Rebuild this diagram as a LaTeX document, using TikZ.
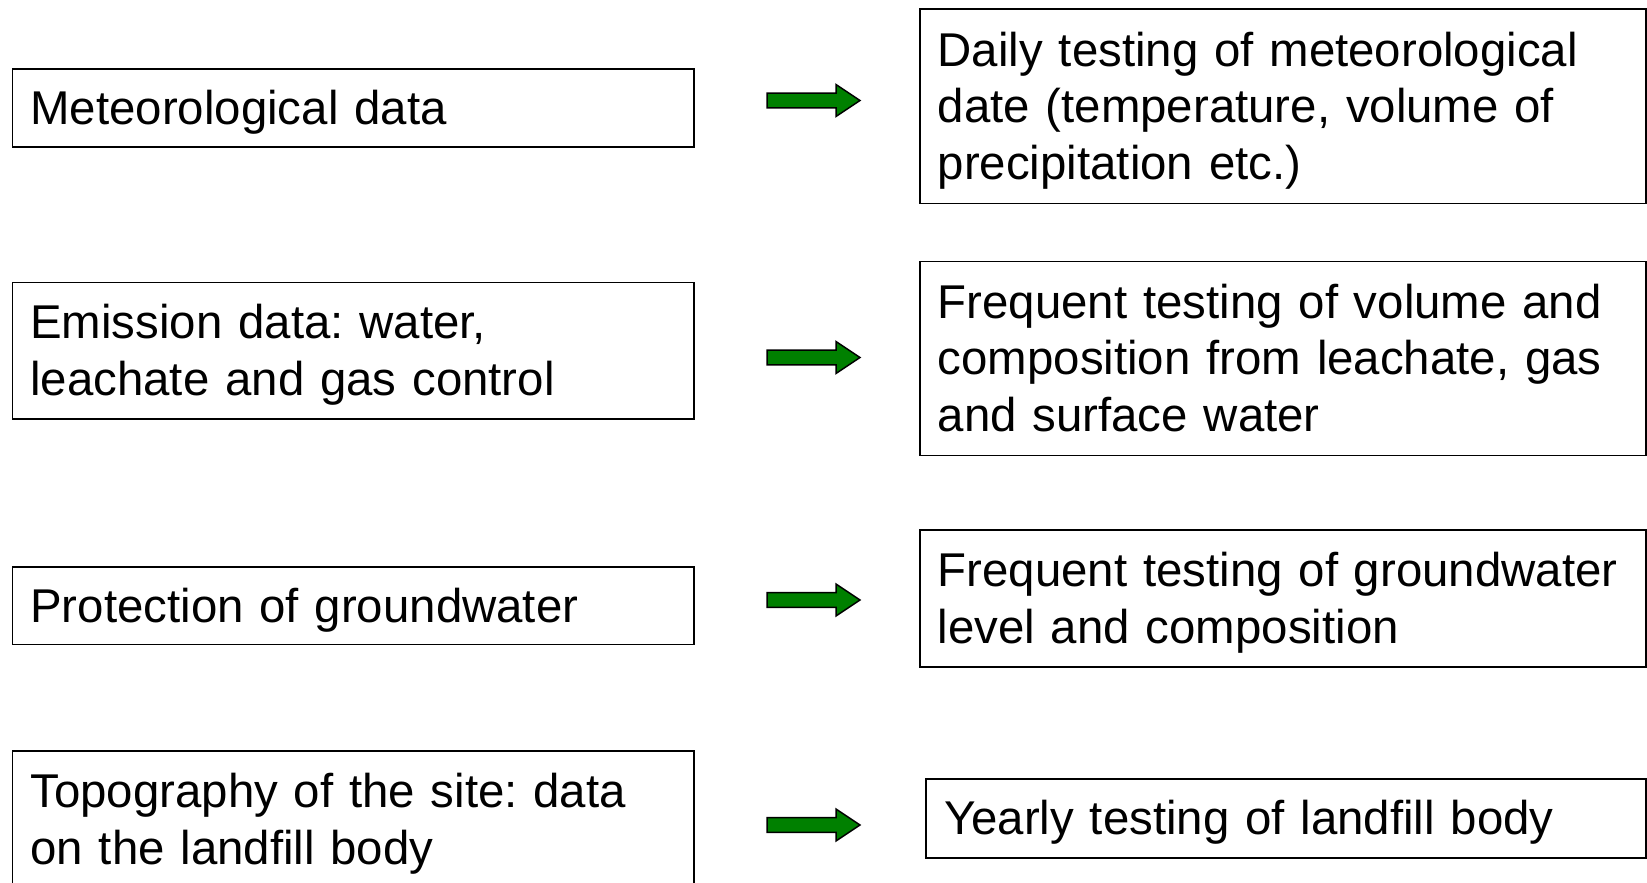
\documentclass[tikz,border=0pt]{standalone}
\usepackage{fontspec}
\setmainfont{Liberation Sans}
\frenchspacing
\definecolor{arrowgreen}{RGB}{0,128,0}
\newcommand{\boxtext}[1]{\raisebox{-4.2pt}[\height][\depth]{\parbox[c]{\hsize}{\raggedright\vphantom{Mlg}#1\vphantom{Mlg}}}}
\begin{document}
\begin{tikzpicture}[x=1pt,y=-1pt,
  box/.style={draw, line width=1.5pt, rectangle, anchor=north west, align=left,
    inner xsep=18pt, inner ysep=0pt, font=\fontsize{47.4}{56.7}\selectfont},
  lbox/.style={box, minimum width=681.7pt, text width=645.7pt},
  rbox/.style={box, minimum width=726pt, text width=690pt},
  blockarr/.style={draw=black, fill=arrowgreen, line width=1.5pt, line join=miter},
  pics/barrow/.style={code={
    \draw[blockarr] (0,-7.3) -- (69,-7.3) -- (69,-16) -- (93,0) -- (69,16) -- (69,7.3) -- (0,7.3) -- cycle;}}
]
\useasboundingbox (0,0) rectangle (1647,883);
\clip (0,0) rectangle (1647,883);
% left column
\node[lbox, minimum height=77.7pt] (l1) at (11.6,68.3) {\boxtext{Meteorological data}};
\node[lbox, minimum height=136.6pt] (l2) at (11.6,281.5) {\boxtext{Emission data: water,\\leachate and gas control}};
\node[lbox, minimum height=77.7pt] (l3) at (11.6,566.2) {\boxtext{Protection of groundwater}};
\node[lbox, minimum height=138pt] (l4) at (11.6,750) {\boxtext{Topography of the site: data\\on the landfill body}};
% right column
\node[rbox, minimum height=194.3pt] (r1) at (919,8.4) {\boxtext{Daily testing of meteorological\\date (temperature, volume of\\precipitation etc.)}};
\node[rbox, minimum height=194.3pt] (r2) at (919,260.5) {\boxtext{Frequent testing of volume and\\composition from leachate, gas\\and surface water}};
\node[rbox, minimum height=136.6pt] (r3) at (919,529.4) {\boxtext{Frequent testing of groundwater\\level and composition}};
\node[box, minimum width=719.6pt, text width=683.6pt, minimum height=78.9pt] (r4) at (925.4,778.3) {\boxtext{Yearly testing of landfill body}};
% block arrows
\coordinate (a1) at (767,100.5);
\coordinate (a2) at (767,357.5);
\coordinate (a3) at (767,600);
\coordinate (a4) at (767,825);
\pic at (a1) {barrow};
\pic at (a2) {barrow};
\pic at (a3) {barrow};
\pic at (a4) {barrow};
\end{tikzpicture}
\end{document}
